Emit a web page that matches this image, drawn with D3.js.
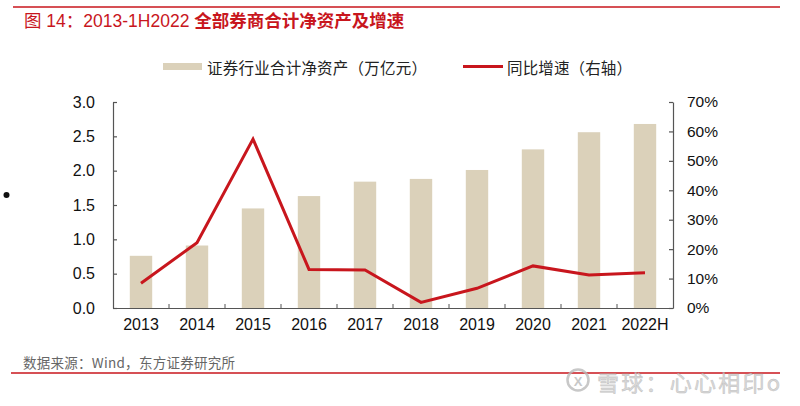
<!DOCTYPE html>
<html><head><meta charset="utf-8">
<script src="https://cdn.jsdelivr.net/npm/d3@7"></script>
<style>
html,body{margin:0;padding:0;background:#fff;}
svg{display:block;}
</style></head>
<body>
<svg id="c" width="800" height="406"></svg>
<script>
const categories = ["2013","2014","2015","2016","2017","2018","2019","2020","2021","2022H"];
const netAssets = [0.76, 0.91, 1.45, 1.63, 1.84, 1.88, 2.01, 2.31, 2.56, 2.68];
const growthPct = [8.4, 22.2, 57.4, 13.1, 12.9, 1.9, 6.7, 14.3, 11.2, 12.0];
const leftTicks = [0, 0.5, 1.0, 1.5, 2.0, 2.5, 3.0];
const rightTicks = [0, 10, 20, 30, 40, 50, 60, 70];
const seriesNames = ["证券行业合计净资产（万亿元）", "同比增速（右轴）"];
const titleA = "图 14：2013-1H2022 ";
const titleB = "全部券商合计净资产及增速";
const sourceText = "数据来源：Wind，东方证券研究所";
const watermark = "雪球：心心相印o";

const svg = d3.select("#c");
const RED = "#C8161D";
const BAR = "#DBD1BA";
const AX = "#555";
const numFont = "'Liberation Sans', Arial, sans-serif";
const cjkFont = "'Noto Sans CJK SC', sans-serif";
const mixFont = "'Liberation Sans', 'Noto Sans CJK SC', sans-serif";

const x0 = 113, x1 = 673, yTop = 102, yBot = 308;
const x = d3.scaleBand().domain(categories).range([x0, x1]).paddingInner(0.6).paddingOuter(0.3);
const band = d3.scaleBand().domain(categories).range([x0, x1]);
const yL = d3.scaleLinear().domain([0, 3]).range([yBot, yTop]);
const yR = d3.scaleLinear().domain([0, 70]).range([yBot, yTop]);

// top rule
svg.append("line").attr("x1", 13).attr("x2", 780).attr("y1", 7).attr("y2", 7)
  .attr("stroke", RED).attr("stroke-width", 1.5);
// title
const t = svg.append("text").attr("x", 24).attr("y", 27).attr("fill", RED)
  .attr("font-size", 17.5).attr("font-family", mixFont);
t.append("tspan").text(titleA);
t.append("tspan").attr("font-weight", "bold").attr("font-family", cjkFont).text(titleB);

// legend
svg.append("rect").attr("x", 163).attr("y", 63).attr("width", 39).attr("height", 7).attr("fill", BAR);
svg.append("text").attr("x", 207).attr("y", 67).attr("dominant-baseline", "central")
  .attr("font-family", cjkFont).attr("font-size", 15.5).attr("fill", "#222")
  .attr("textLength", 220).attr("lengthAdjust", "spacing").text(seriesNames[0]);
svg.append("line").attr("x1", 463).attr("x2", 503).attr("y1", 66.5).attr("y2", 66.5)
  .attr("stroke", RED).attr("stroke-width", 3);
svg.append("text").attr("x", 507).attr("y", 67).attr("dominant-baseline", "central")
  .attr("font-family", cjkFont).attr("font-size", 15.5).attr("fill", "#222")
  .attr("textLength", 125).attr("lengthAdjust", "spacing").text(seriesNames[1]);

// bullet
svg.append("circle").attr("cx", 6.5).attr("cy", 195).attr("r", 3).attr("fill", "#111");

// bars
svg.append("g").selectAll("rect").data(categories).join("rect")
  .attr("x", d => x(d)).attr("width", x.bandwidth())
  .attr("y", (d, i) => yL(netAssets[i])).attr("height", (d, i) => yBot - yL(netAssets[i]))
  .attr("fill", BAR);

// axes
const gL = svg.append("g").attr("transform", `translate(${x0},0)`)
  .call(d3.axisLeft(yL).tickValues(leftTicks).tickFormat(d3.format(".1f")).tickSizeInner(-4).tickSizeOuter(0).tickPadding(18));
const gR = svg.append("g").attr("transform", `translate(${x1},0)`)
  .call(d3.axisRight(yR).tickValues(rightTicks).tickFormat(d => d + "%").tickSizeInner(-4).tickSizeOuter(0).tickPadding(14));
const gX = svg.append("g").attr("transform", `translate(0,${yBot})`)
  .call(d3.axisBottom(band).tickSize(0).tickPadding(11));
// category boundary ticks
svg.append("g").selectAll("line").data(categories.slice(1)).join("line")
  .attr("x1", d => band(d)).attr("x2", d => band(d)).attr("y1", yBot).attr("y2", yBot - 4)
  .attr("stroke", AX).attr("stroke-width", 1);

[gL, gR, gX].forEach(g => {
  g.selectAll("path,line").attr("stroke", AX).attr("stroke-width", 1.2);
  g.selectAll("text").attr("font-family", numFont).attr("font-size", 15.5).attr("fill", "#111");
});
gX.selectAll("text").attr("font-size", 16).attr("dy", "0.71em");
gL.selectAll("text").attr("font-size", 16);

// line
const line = d3.line().x((d, i) => band(categories[i]) + band.bandwidth() / 2).y(d => yR(d));
svg.append("path").datum(growthPct).attr("d", line).attr("fill", "none")
  .attr("stroke", RED).attr("stroke-width", 3).attr("stroke-linejoin", "miter");

// source
svg.append("text").attr("x", 23).attr("y", 362).attr("dominant-baseline", "central")
  .attr("font-family", cjkFont).attr("font-size", 13.5).attr("fill", "#666")
  .attr("textLength", 212).attr("lengthAdjust", "spacing").text(sourceText);
svg.append("line").attr("x1", 11).attr("x2", 780).attr("y1", 373).attr("y2", 373)
  .attr("stroke", RED).attr("stroke-width", 1.5);

// watermark
const wm = svg.append("g").attr("opacity", 0.8);
wm.append("circle").attr("cx", 578).attr("cy", 380).attr("r", 10.5).attr("fill", "none")
  .attr("stroke", "#bbb").attr("stroke-width", 2.5);
wm.append("text").attr("x", 578).attr("y", 381).attr("text-anchor", "middle").attr("dominant-baseline", "central")
  .attr("font-family", numFont).attr("font-size", 13).attr("font-weight", "bold").attr("fill", "#bbb").text("X");
wm.append("text").attr("x", 597).attr("y", 381).attr("dominant-baseline", "central")
  .attr("font-family", cjkFont).attr("font-size", 22).attr("fill", "#d0d0d0")
  .attr("stroke", "#aaa").attr("stroke-width", 0.4)
  .attr("textLength", 183).attr("lengthAdjust", "spacing").text(watermark);
</script>
</body></html>
